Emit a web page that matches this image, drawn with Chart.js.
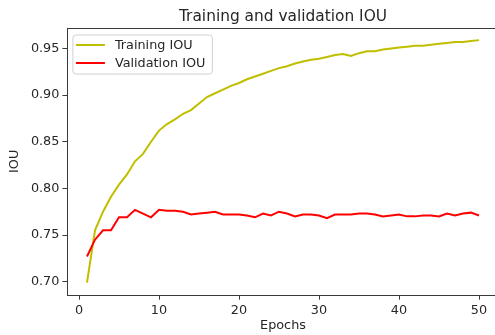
<!DOCTYPE html>
<html>
<head>
<meta charset="utf-8">
<script src="https://cdn.jsdelivr.net/npm/chart.js@4"></script>
<style>
  html, body { margin: 0; padding: 0; overflow: hidden; background: #fff; }
  #wrap { width: 505px; height: 335px; }
</style>
</head>
<body>
<div id="wrap"><canvas id="iouChart"></canvas></div>
<script>
const epochs = [1, 2, 3, 4, 5, 6, 7, 8, 9, 10, 11, 12, 13, 14, 15, 16, 17, 18, 19, 20,
    21, 22, 23, 24, 25, 26, 27, 28, 29, 30, 31, 32, 33, 34, 35, 36, 37, 38, 39, 40,
    41, 42, 43, 44, 45, 46, 47, 48, 49, 50];

const trainIou = [0.699, 0.755, 0.775, 0.791, 0.804, 0.815, 0.829, 0.837, 0.850, 0.862,
    0.869, 0.874, 0.880, 0.884, 0.891, 0.898, 0.902, 0.906, 0.910, 0.913,
    0.917, 0.920, 0.923, 0.926, 0.929, 0.931, 0.934, 0.936, 0.938, 0.939,
    0.941, 0.943, 0.944, 0.942, 0.945, 0.947, 0.947, 0.949, 0.950, 0.951,
    0.952, 0.953, 0.953, 0.954, 0.955, 0.956, 0.957, 0.957, 0.958, 0.959];

const valIou = [0.727, 0.745, 0.755, 0.755, 0.769, 0.769, 0.777, 0.773, 0.769, 0.777,
    0.776, 0.776, 0.775, 0.772, 0.773, 0.774, 0.775, 0.772, 0.772, 0.772,
    0.771, 0.769, 0.773, 0.771, 0.775, 0.773, 0.770, 0.772, 0.772, 0.771,
    0.768, 0.772, 0.772, 0.772, 0.773, 0.773, 0.772, 0.770, 0.771, 0.772,
    0.770, 0.770, 0.771, 0.771, 0.770, 0.773, 0.771, 0.773, 0.774, 0.771];

const xTicks = [0, 10, 20, 30, 40, 50];
const yTicks = [0.70, 0.75, 0.80, 0.85, 0.90, 0.95];

const FONT = "'DejaVu Sans', sans-serif";
const INK = "#262626";
const SIZE = 12.8;

// matplotlib-ish frame, title and legend
const mplPlugin = {
    id: "mplDecor",
    afterDraw(chart) {
        const { ctx, chartArea: a } = chart;
        ctx.save();

        ctx.strokeStyle = "#3a3a3a";
        ctx.lineWidth = 1;
        ctx.strokeRect(Math.round(a.left) + 0.5, Math.round(a.top) + 0.5,
            Math.round(a.right - a.left), Math.round(a.bottom - a.top));

        ctx.fillStyle = INK;
        ctx.font = "15.4px " + FONT;
        ctx.textAlign = "center";
        ctx.textBaseline = "alphabetic";
        ctx.fillText("Training and validation IOU", (a.left + a.right) / 2, 21);

        const sets = chart.data.datasets;
        ctx.font = SIZE + "px " + FONT;
        let textW = 0;
        sets.forEach(d => { textW = Math.max(textW, ctx.measureText(d.label).width); });
        const bx = a.left + 5.5, by = a.top + 7;
        const bw = 42 + textW + 7, bh = 39;
        ctx.beginPath();
        ctx.roundRect(bx, by, bw, bh, 3);
        ctx.fillStyle = "rgba(255,255,255,0.8)";
        ctx.fill();
        ctx.strokeStyle = "#d0d0d0";
        ctx.stroke();

        sets.forEach((d, i) => {
            const y = by + 10 + i * 18;
            ctx.strokeStyle = d.borderColor;
            ctx.lineWidth = 2;
            ctx.beginPath();
            ctx.moveTo(bx + 3, y);
            ctx.lineTo(bx + 32, y);
            ctx.stroke();
            ctx.fillStyle = INK;
            ctx.textAlign = "left";
            ctx.textBaseline = "middle";
            ctx.fillText(d.label, bx + 42, y + 0.5);
        });
        ctx.restore();
    }
};

const toPoints = vals => vals.map((v, i) => ({ x: epochs[i], y: v }));

new Chart(document.getElementById("iouChart"), {
    type: "line",
    data: {
        datasets: [{
            label: "Training IOU",
            data: toPoints(trainIou),
            borderColor: "#bfbf00",
            borderWidth: 2,
            pointRadius: 0,
            tension: 0,
            order: 1
        }, {
            label: "Validation IOU",
            data: toPoints(valIou),
            borderColor: "#ff0000",
            borderWidth: 2,
            pointRadius: 0,
            tension: 0,
            order: 0
        }]
    },
    options: {
        responsive: true,
        maintainAspectRatio: false,
        animation: false,
        layout: { padding: { top: 28, right: 6.4, bottom: 0, left: 0 } },
        plugins: {
            legend: { display: false },
            tooltip: { enabled: false },
            title: { display: false }
        },
        scales: {
            x: {
                type: "linear",
                min: -1.45,
                max: 52.45,
                afterBuildTicks: s => { s.ticks = xTicks.map(v => ({ value: v })); },
                afterFit: s => { s.height = 40.3; },
                grid: { drawOnChartArea: false, drawTicks: true, tickLength: 5, tickColor: "#3a3a3a" },
                border: { display: false },
                ticks: { color: INK, font: { family: FONT, size: SIZE }, padding: 3, maxRotation: 0 },
                title: { display: true, text: "Epochs", color: INK, font: { family: FONT, size: SIZE }, padding: { top: 0, bottom: 2 } }
            },
            y: {
                min: 0.686,
                max: 0.972,
                afterBuildTicks: s => { s.ticks = yTicks.map(v => ({ value: v })); },
                afterFit: s => { s.width = 67.4; },
                grid: { drawOnChartArea: false, drawTicks: true, tickLength: 5, tickColor: "#3a3a3a" },
                border: { display: false },
                ticks: { color: INK, font: { family: FONT, size: SIZE }, padding: 3, callback: v => v.toFixed(2) },
                title: { display: true, text: "IOU", color: INK, font: { family: FONT, size: SIZE }, padding: { top: 7, bottom: 0 } }
            }
        }
    },
    plugins: [mplPlugin]
});
</script>
</body>
</html>
